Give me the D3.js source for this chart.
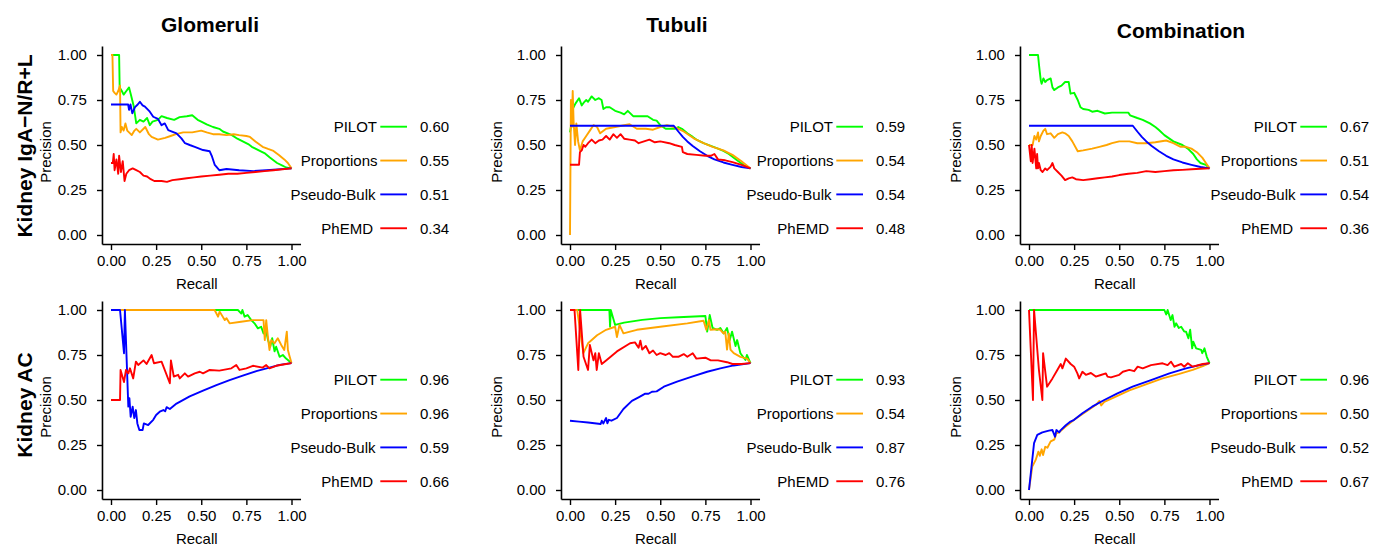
<!DOCTYPE html>
<html><head><meta charset="utf-8">
<script src="https://cdn.jsdelivr.net/npm/d3@7/dist/d3.min.js"></script>
<style>
body{margin:0;background:#fff;}
svg{display:block;font-family:"Liberation Sans",Arial,Helvetica,sans-serif;}
</style></head><body>
<svg id="chart" width="1373" height="546"></svg>
<script>
// ---------------- data ----------------
const methods = ["PILOT", "Proportions", "Pseudo-Bulk", "PhEMD"];
const methodColors = ["#00ff00", "#ffa500", "#0000ff", "#ff0000"];
const colTitles = ["Glomeruli", "Tubuli", "Combination"];
const rowLabels = ["Kidney IgA\u2212N/R+L", "Kidney AC"];
const axisTicks = [0, 0.25, 0.5, 0.75, 1];

// AUC values shown next to legend (row, column)
const aucIgaGlom = [0.60, 0.55, 0.51, 0.34];
const aucIgaTub  = [0.59, 0.54, 0.54, 0.48];
const aucIgaComb = [0.67, 0.51, 0.54, 0.36];
const aucAcGlom  = [0.96, 0.96, 0.59, 0.66];
const aucAcTub   = [0.93, 0.54, 0.87, 0.76];
const aucAcComb  = [0.96, 0.50, 0.52, 0.67];

// curves: [recall, precision]
const igaGlomPilot = [[0,1],[0.045,1],[0.048,0.82],[0.06,0.80],[0.07,0.78],[0.085,0.80],[0.1,0.82],[0.11,0.78],[0.125,0.72],[0.14,0.62],[0.16,0.64],[0.18,0.63],[0.2,0.65],[0.215,0.61],[0.23,0.63],[0.26,0.64],[0.28,0.66],[0.31,0.65],[0.35,0.64],[0.38,0.655],[0.42,0.66],[0.45,0.665],[0.48,0.64],[0.5,0.63],[0.53,0.615],[0.565,0.60],[0.6,0.59],[0.62,0.575],[0.67,0.555],[0.7,0.535],[0.73,0.52],[0.76,0.505],[0.78,0.49],[0.8,0.48],[0.83,0.465],[0.85,0.455],[0.88,0.43],[0.9,0.415],[0.92,0.40],[0.95,0.385],[0.97,0.375],[1,0.37]];
const igaGlomProp = [[0,1],[0.008,1],[0.012,0.80],[0.02,0.79],[0.03,0.78],[0.04,0.80],[0.05,0.83],[0.053,0.57],[0.06,0.60],[0.07,0.58],[0.08,0.62],[0.09,0.58],[0.1,0.57],[0.115,0.555],[0.13,0.58],[0.14,0.59],[0.16,0.57],[0.19,0.60],[0.21,0.56],[0.225,0.545],[0.26,0.53],[0.3,0.54],[0.33,0.55],[0.36,0.56],[0.4,0.57],[0.45,0.57],[0.5,0.58],[0.53,0.57],[0.565,0.56],[0.6,0.56],[0.64,0.555],[0.68,0.56],[0.71,0.555],[0.75,0.55],[0.77,0.545],[0.8,0.52],[0.84,0.49],[0.87,0.478],[0.9,0.467],[0.93,0.445],[0.96,0.42],[0.98,0.40],[1,0.37]];
const igaGlomBulk = [[0,0.725],[0.095,0.725],[0.1,0.695],[0.108,0.725],[0.118,0.676],[0.133,0.71],[0.148,0.725],[0.16,0.74],[0.175,0.72],[0.188,0.713],[0.215,0.685],[0.234,0.657],[0.26,0.645],[0.28,0.61],[0.298,0.62],[0.317,0.583],[0.363,0.565],[0.39,0.537],[0.41,0.51],[0.436,0.50],[0.464,0.49],[0.51,0.472],[0.547,0.465],[0.56,0.435],[0.575,0.389],[0.6,0.36],[0.64,0.367],[0.71,0.36],[0.79,0.355],[0.86,0.36],[1,0.37]];
const igaGlomPhemd = [[0,0.40],[0.01,0.40],[0.015,0.45],[0.02,0.36],[0.03,0.42],[0.04,0.34],[0.045,0.44],[0.055,0.35],[0.065,0.41],[0.075,0.30],[0.085,0.34],[0.1,0.36],[0.12,0.37],[0.14,0.36],[0.16,0.35],[0.18,0.33],[0.2,0.325],[0.22,0.31],[0.24,0.30],[0.28,0.30],[0.31,0.295],[0.34,0.305],[0.38,0.31],[0.42,0.315],[0.46,0.32],[0.5,0.325],[0.55,0.33],[0.6,0.335],[0.65,0.34],[0.7,0.34],[0.75,0.345],[0.8,0.35],[0.85,0.355],[0.9,0.36],[0.95,0.365],[1,0.37]];

const igaTubPilot = [[0,0.57],[0.005,0.60],[0.015,0.70],[0.03,0.73],[0.05,0.76],[0.065,0.72],[0.08,0.74],[0.09,0.75],[0.1,0.74],[0.12,0.77],[0.14,0.75],[0.16,0.76],[0.175,0.75],[0.185,0.70],[0.2,0.71],[0.22,0.71],[0.25,0.69],[0.28,0.68],[0.3,0.67],[0.32,0.69],[0.35,0.66],[0.4,0.66],[0.43,0.66],[0.46,0.64],[0.48,0.635],[0.5,0.61],[0.53,0.59],[0.58,0.59],[0.6,0.60],[0.62,0.59],[0.65,0.565],[0.68,0.545],[0.7,0.53],[0.74,0.51],[0.78,0.495],[0.82,0.48],[0.85,0.467],[0.88,0.45],[0.92,0.42],[0.96,0.39],[1,0.37]];
const igaTubProp = [[0,0],[0.005,0.75],[0.01,0.60],[0.015,0.80],[0.02,0.63],[0.028,0.50],[0.035,0.62],[0.045,0.52],[0.055,0.47],[0.07,0.52],[0.09,0.55],[0.11,0.58],[0.13,0.61],[0.15,0.60],[0.167,0.565],[0.2,0.59],[0.25,0.60],[0.3,0.61],[0.33,0.615],[0.37,0.59],[0.42,0.59],[0.46,0.585],[0.5,0.60],[0.537,0.61],[0.575,0.60],[0.6,0.59],[0.63,0.575],[0.685,0.537],[0.74,0.51],[0.79,0.49],[0.85,0.47],[0.9,0.445],[0.95,0.41],[1,0.37]];
const igaTubBulk = [[0,0.607],[0.575,0.607],[0.6,0.575],[0.625,0.545],[0.65,0.52],[0.68,0.495],[0.72,0.465],[0.76,0.44],[0.8,0.42],[0.85,0.403],[0.9,0.39],[0.95,0.378],[1,0.37]];
const igaTubPhemd = [[0,0.39],[0.05,0.39],[0.055,0.46],[0.065,0.47],[0.075,0.50],[0.085,0.49],[0.1,0.51],[0.12,0.53],[0.14,0.51],[0.16,0.525],[0.18,0.53],[0.2,0.55],[0.22,0.53],[0.24,0.56],[0.26,0.54],[0.28,0.56],[0.3,0.535],[0.33,0.53],[0.36,0.525],[0.38,0.51],[0.41,0.52],[0.44,0.53],[0.47,0.515],[0.5,0.52],[0.55,0.51],[0.58,0.50],[0.62,0.49],[0.625,0.46],[0.65,0.45],[0.7,0.445],[0.75,0.44],[0.78,0.44],[0.8,0.45],[0.82,0.42],[0.86,0.415],[0.9,0.405],[0.95,0.39],[1,0.37]];

const igaCombPilot = [[0,1],[0.05,1],[0.056,0.94],[0.065,0.86],[0.07,0.84],[0.08,0.87],[0.09,0.85],[0.1,0.86],[0.12,0.87],[0.13,0.82],[0.14,0.805],[0.16,0.82],[0.18,0.83],[0.2,0.85],[0.22,0.85],[0.23,0.785],[0.25,0.79],[0.27,0.75],[0.285,0.71],[0.3,0.70],[0.33,0.695],[0.35,0.685],[0.38,0.69],[0.42,0.675],[0.46,0.68],[0.5,0.68],[0.55,0.68],[0.56,0.665],[0.6,0.65],[0.63,0.64],[0.67,0.62],[0.7,0.60],[0.72,0.583],[0.75,0.555],[0.8,0.52],[0.85,0.50],[0.88,0.48],[0.91,0.45],[0.93,0.42],[0.95,0.40],[0.98,0.39],[1,0.37]];
const igaCombProp = [[0,0.50],[0.02,0.50],[0.03,0.55],[0.04,0.53],[0.05,0.57],[0.055,0.52],[0.065,0.55],[0.08,0.58],[0.09,0.59],[0.1,0.56],[0.12,0.565],[0.14,0.54],[0.16,0.56],[0.185,0.57],[0.2,0.565],[0.22,0.55],[0.24,0.52],[0.27,0.465],[0.3,0.47],[0.35,0.48],[0.39,0.49],[0.43,0.50],[0.46,0.51],[0.5,0.52],[0.556,0.52],[0.6,0.51],[0.65,0.51],[0.7,0.515],[0.76,0.525],[0.8,0.51],[0.84,0.49],[0.87,0.49],[0.9,0.48],[0.93,0.46],[0.96,0.43],[0.98,0.40],[1,0.37]];
const igaCombBulk = [[0,0.607],[0.575,0.607],[0.6,0.575],[0.625,0.545],[0.65,0.52],[0.68,0.495],[0.72,0.465],[0.76,0.44],[0.8,0.42],[0.85,0.403],[0.9,0.39],[0.95,0.378],[1,0.37]];
const igaCombPhemd = [[0,0.50],[0.01,0.41],[0.015,0.50],[0.02,0.40],[0.03,0.48],[0.04,0.37],[0.045,0.45],[0.05,0.37],[0.055,0.40],[0.065,0.36],[0.075,0.35],[0.09,0.37],[0.1,0.36],[0.12,0.38],[0.13,0.40],[0.14,0.37],[0.16,0.35],[0.18,0.33],[0.2,0.305],[0.22,0.315],[0.24,0.32],[0.26,0.31],[0.3,0.305],[0.34,0.31],[0.38,0.315],[0.42,0.32],[0.46,0.325],[0.5,0.333],[0.55,0.34],[0.6,0.345],[0.65,0.355],[0.7,0.35],[0.75,0.355],[0.8,0.36],[0.85,0.362],[0.9,0.365],[0.95,0.368],[1,0.37]];

const acGlomPilot = [[0,1],[0.703,1],[0.722,0.98],[0.728,1],[0.74,0.963],[0.757,0.972],[0.777,0.944],[0.795,0.926],[0.814,0.898],[0.832,0.907],[0.845,0.87],[0.86,0.88],[0.87,0.833],[0.882,0.796],[0.893,0.843],[0.906,0.77],[0.915,0.796],[0.934,0.74],[0.952,0.75],[0.97,0.73],[1,0.705]];
const acGlomProp = [[0,1],[0.574,1],[0.593,0.963],[0.602,0.991],[0.63,0.944],[0.64,0.954],[0.657,0.926],[0.72,0.935],[0.786,0.944],[0.845,0.944],[0.852,0.833],[0.86,0.944],[0.869,0.852],[0.878,0.778],[0.888,0.833],[0.906,0.815],[0.924,0.843],[0.943,0.806],[0.96,0.778],[0.974,0.88],[0.98,0.778],[0.99,0.74],[1,0.705]];
const acGlomBulk = [[0,1],[0.05,1],[0.072,0.76],[0.077,1],[0.096,0.463],[0.102,0.51],[0.109,0.407],[0.12,0.463],[0.129,0.40],[0.138,0.444],[0.146,0.37],[0.157,0.333],[0.175,0.333],[0.182,0.37],[0.206,0.361],[0.234,0.39],[0.25,0.417],[0.27,0.435],[0.29,0.444],[0.3,0.437],[0.308,0.46],[0.326,0.45],[0.363,0.48],[0.436,0.52],[0.51,0.552],[0.584,0.583],[0.657,0.61],[0.73,0.635],[0.805,0.66],[0.878,0.68],[0.934,0.695],[1,0.705]];
const acGlomPhemd = [[0,0.5],[0.05,0.5],[0.053,0.667],[0.072,0.60],[0.083,0.667],[0.096,0.648],[0.105,0.676],[0.123,0.62],[0.138,0.713],[0.151,0.694],[0.18,0.72],[0.197,0.70],[0.225,0.75],[0.238,0.704],[0.28,0.713],[0.326,0.593],[0.332,0.72],[0.348,0.63],[0.372,0.64],[0.381,0.62],[0.409,0.648],[0.427,0.63],[0.464,0.648],[0.492,0.657],[0.51,0.648],[0.547,0.667],[0.6,0.663],[0.667,0.676],[0.694,0.694],[0.712,0.667],[0.75,0.676],[0.786,0.69],[0.84,0.68],[0.86,0.694],[0.878,0.676],[0.915,0.69],[0.97,0.70],[1,0.705]];

const acTubPilot = [[0,1],[0.218,1],[0.222,0.907],[0.226,1],[0.25,0.917],[0.3,0.93],[0.4,0.945],[0.5,0.955],[0.6,0.96],[0.75,0.967],[0.76,0.88],[0.774,0.972],[0.79,0.90],[0.815,0.89],[0.833,0.90],[0.852,0.87],[0.87,0.90],[0.885,0.833],[0.898,0.88],[0.917,0.80],[0.926,0.833],[0.944,0.76],[0.972,0.722],[0.98,0.75],[1,0.705]];
const acTubProp = [[0,1],[0.04,1],[0.074,0.76],[0.1,0.815],[0.15,0.86],[0.2,0.89],[0.25,0.907],[0.26,0.85],[0.274,0.917],[0.296,0.87],[0.37,0.89],[0.5,0.907],[0.65,0.926],[0.74,0.94],[0.755,0.89],[0.77,0.944],[0.778,0.89],[0.815,0.893],[0.833,0.89],[0.85,0.87],[0.86,0.88],[0.87,0.78],[0.88,0.87],[0.889,0.78],[0.907,0.76],[0.944,0.74],[0.981,0.73],[1,0.705]];
const acTubBulk = [[0,0.385],[0.05,0.38],[0.1,0.375],[0.17,0.367],[0.176,0.385],[0.185,0.37],[0.2,0.40],[0.207,0.37],[0.215,0.39],[0.23,0.385],[0.26,0.40],[0.296,0.45],[0.343,0.495],[0.38,0.515],[0.417,0.535],[0.435,0.535],[0.454,0.546],[0.48,0.548],[0.52,0.574],[0.593,0.602],[0.676,0.63],[0.76,0.657],[0.833,0.676],[0.907,0.692],[1,0.705]];
const acTubPhemd = [[0,1],[0.025,1],[0.046,0.667],[0.056,1],[0.075,0.74],[0.1,0.667],[0.11,0.806],[0.13,0.72],[0.14,0.76],[0.148,0.667],[0.16,0.76],[0.176,0.70],[0.2,0.72],[0.26,0.77],[0.333,0.815],[0.36,0.82],[0.38,0.79],[0.39,0.83],[0.4,0.78],[0.42,0.80],[0.44,0.76],[0.46,0.775],[0.48,0.75],[0.5,0.76],[0.53,0.75],[0.55,0.76],[0.57,0.74],[0.6,0.74],[0.63,0.755],[0.65,0.74],[0.68,0.76],[0.7,0.73],[0.75,0.735],[0.78,0.72],[0.82,0.72],[0.87,0.71],[0.9,0.70],[0.95,0.70],[1,0.705]];

const acCombPilot = [[0,1],[0.75,1],[0.76,0.975],[0.768,1],[0.785,0.944],[0.795,0.972],[0.806,0.907],[0.815,0.926],[0.83,0.90],[0.843,0.907],[0.86,0.88],[0.87,0.88],[0.883,0.843],[0.893,0.89],[0.904,0.787],[0.91,0.824],[0.926,0.787],[0.954,0.778],[0.96,0.76],[0.972,0.787],[0.985,0.74],[1,0.705]];
const acCombProp = [[0,0],[0.018,0.13],[0.037,0.167],[0.052,0.213],[0.06,0.19],[0.07,0.226],[0.078,0.194],[0.09,0.24],[0.102,0.235],[0.12,0.27],[0.14,0.28],[0.152,0.315],[0.167,0.32],[0.2,0.35],[0.25,0.39],[0.315,0.435],[0.37,0.472],[0.39,0.495],[0.4,0.47],[0.417,0.49],[0.472,0.515],[0.556,0.553],[0.648,0.587],[0.74,0.62],[0.833,0.645],[0.907,0.667],[0.963,0.688],[1,0.705]];
const acCombBulk = [[0,0],[0.028,0.26],[0.046,0.306],[0.074,0.32],[0.11,0.33],[0.13,0.333],[0.144,0.296],[0.152,0.333],[0.167,0.32],[0.176,0.333],[0.204,0.36],[0.23,0.38],[0.25,0.39],[0.296,0.426],[0.35,0.463],[0.417,0.50],[0.49,0.537],[0.574,0.574],[0.676,0.611],[0.778,0.648],[0.87,0.676],[0.944,0.694],[1,0.705]];
const acCombPhemd = [[0,1],[0.022,0.5],[0.028,1],[0.055,0.667],[0.074,0.5],[0.078,0.76],[0.1,0.574],[0.13,0.62],[0.157,0.667],[0.176,0.70],[0.185,0.676],[0.204,0.73],[0.231,0.70],[0.25,0.685],[0.268,0.648],[0.278,0.62],[0.296,0.657],[0.315,0.64],[0.343,0.65],[0.37,0.63],[0.398,0.639],[0.426,0.648],[0.435,0.63],[0.454,0.626],[0.5,0.64],[0.52,0.657],[0.556,0.667],[0.583,0.66],[0.602,0.685],[0.63,0.676],[0.676,0.694],[0.74,0.704],[0.768,0.694],[0.787,0.713],[0.805,0.685],[0.843,0.70],[0.86,0.685],[0.88,0.704],[0.907,0.685],[0.963,0.70],[1,0.705]];

// ---------------- assemble ----------------
const panels = [
  [{curves:[igaGlomPilot, igaGlomProp, igaGlomBulk, igaGlomPhemd], auc: aucIgaGlom},
   {curves:[igaTubPilot, igaTubProp, igaTubBulk, igaTubPhemd], auc: aucIgaTub},
   {curves:[igaCombPilot, igaCombProp, igaCombBulk, igaCombPhemd], auc: aucIgaComb}],
  [{curves:[acGlomPilot, acGlomProp, acGlomBulk, acGlomPhemd], auc: aucAcGlom},
   {curves:[acTubPilot, acTubProp, acTubBulk, acTubPhemd], auc: aucAcTub},
   {curves:[acCombPilot, acCombProp, acCombBulk, acCombPhemd], auc: aucAcComb}]
];

// layout
const colX0 = [111, 570, 1029];
const rowY1 = [55, 310];
const PW = 180.5, PH = 180;
const precX = [50.5, 502, 960.5];
const legRight = [377, 833, 1297];
const legY0 = [126.7, 379.7];
const legStep = 33.85;
const titleX = [210, 677, 1181];
const titleY = [32, 32, 38];
const labelShift = [0, 0.5, -1.5, -4];

const svg = d3.select("#chart");
const fmt2 = d3.format(".2f");

rowLabels.forEach((lab, r) => {
  svg.append("text")
    .attr("transform", `translate(31.5,${r === 0 ? 146 : 405}) rotate(-90)`)
    .attr("text-anchor", "middle")
    .attr("font-size", 21).attr("font-weight", "bold").attr("fill", "#000")
    .text(lab);
});

colTitles.forEach((t, c) => {
  svg.append("text")
    .attr("x", titleX[c]).attr("y", titleY[c])
    .attr("text-anchor", "middle")
    .attr("font-size", 21).attr("font-weight", "bold").attr("fill", "#000")
    .text(t);
});

panels.forEach((row, r) => {
  row.forEach((pn, c) => {
    const x0 = colX0[c], y1 = rowY1[r];
    const x = d3.scaleLinear().domain([-0.05, 1.05]).range([x0 - 0.05 * PW, x0 + 1.05 * PW]);
    const y = d3.scaleLinear().domain([-0.05, 1.05]).range([y1 + 1.05 * PH, y1 - 0.05 * PH]);
    const g = svg.append("g");

    // axes
    const yAx = g.append("g").attr("transform", `translate(${x(-0.05)},0)`)
      .call(d3.axisLeft(y).tickValues(axisTicks).tickFormat(fmt2).tickSize(5).tickSizeOuter(0).tickPadding(10));
    const xAx = g.append("g").attr("transform", `translate(0,${y(-0.05)})`)
      .call(d3.axisBottom(x).tickValues(axisTicks).tickFormat(fmt2).tickSize(6).tickSizeOuter(0).tickPadding(5));
    [yAx, xAx].forEach(a => {
      a.select(".domain").attr("stroke", "#000").attr("stroke-width", 1.6);
      a.selectAll(".tick line").attr("stroke", "#000").attr("stroke-width", 1.4);
      a.selectAll(".tick text").attr("font-size", 15).attr("fill", "#000")
        .attr("font-family", '"Liberation Sans",Arial,sans-serif');
    });

    // axis titles
    g.append("text")
      .attr("transform", `translate(${precX[c]},${y1 + 97}) rotate(-90)`)
      .attr("text-anchor", "middle").attr("font-size", 15).attr("fill", "#000")
      .text("Precision");
    g.append("text")
      .attr("x", x0 + PW / 2 - 4.5).attr("y", y1 + 234)
      .attr("text-anchor", "middle").attr("font-size", 15).attr("fill", "#000")
      .text("Recall");

    // curves
    const line = d3.line().x(d => x(d[0])).y(d => y(d[1]));
    pn.curves.forEach((cv, m) => {
      g.append("path").datum(cv)
        .attr("d", line).attr("fill", "none")
        .attr("stroke", methodColors[m]).attr("stroke-width", 1.9)
        .attr("stroke-linejoin", "round").attr("stroke-linecap", "butt");
    });

    // legend
    methods.forEach((name, m) => {
      const ly = legY0[r] + m * legStep;
      const lr = legRight[c];
      g.append("text")
        .attr("x", lr + labelShift[m]).attr("y", ly).attr("dy", "0.36em")
        .attr("text-anchor", "end").attr("font-size", 15).attr("fill", "#000")
        .text(name);
      g.append("line")
        .attr("x1", lr + 3.3).attr("x2", lr + 30).attr("y1", ly).attr("y2", ly)
        .attr("stroke", methodColors[m]).attr("stroke-width", 1.9);
      g.append("text")
        .attr("x", lr + 43).attr("y", ly).attr("dy", "0.36em")
        .attr("text-anchor", "start").attr("font-size", 15).attr("fill", "#000")
        .text(fmt2(pn.auc[m]));
    });
  });
});
</script>
</body></html>
